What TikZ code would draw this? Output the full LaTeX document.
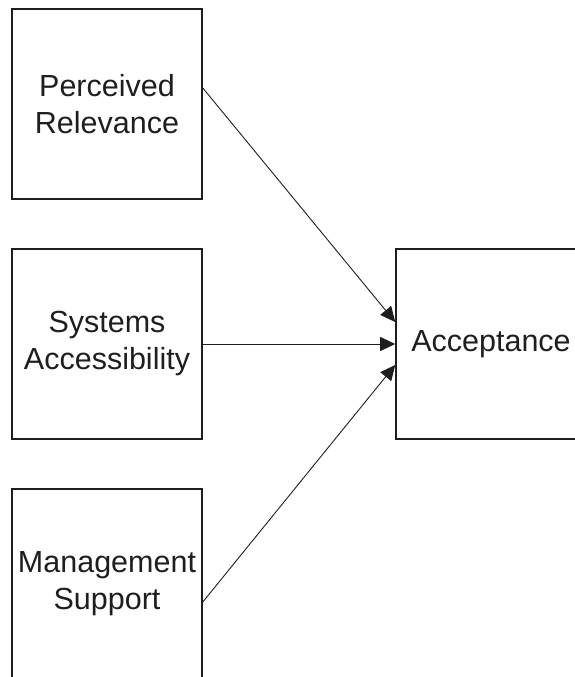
\documentclass[tikz,border=0pt]{standalone}
\usepackage{fontspec}
\setmainfont{Liberation Sans}
\usetikzlibrary{arrows.meta}
\definecolor{ink}{HTML}{1E1E1E}
\begin{document}
\begin{tikzpicture}[x=1pt,y=-1pt,
  factor/.style={draw=ink, line width=1.6pt, minimum width=190pt, minimum height=190pt,
    inner sep=0pt, align=center, text=ink, font=\fontsize{30.5}{37}\selectfont},
  link/.style={draw=ink, line width=0.9pt, -{Triangle[length=15pt,width=14pt]}}]
\useasboundingbox (0,0) rectangle (575,677);
\node[factor] (pr)  at (107,104) {Perceived\\Relevance};
\node[factor] (sa)  at (107,344) {Systems\\Accessibility};
\node[factor] (ms)  at (107,584) {Management\\Support};
\node[factor] (acc) at (491,344) {Acceptance};
\draw[link] ([yshift=16pt]pr.east) -- ([yshift=22pt]acc.west);
\draw[link] (sa.east) -- (acc.west);
\draw[link] ([yshift=-18pt]ms.east) -- ([yshift=-21pt]acc.west);
\end{tikzpicture}
\end{document}
